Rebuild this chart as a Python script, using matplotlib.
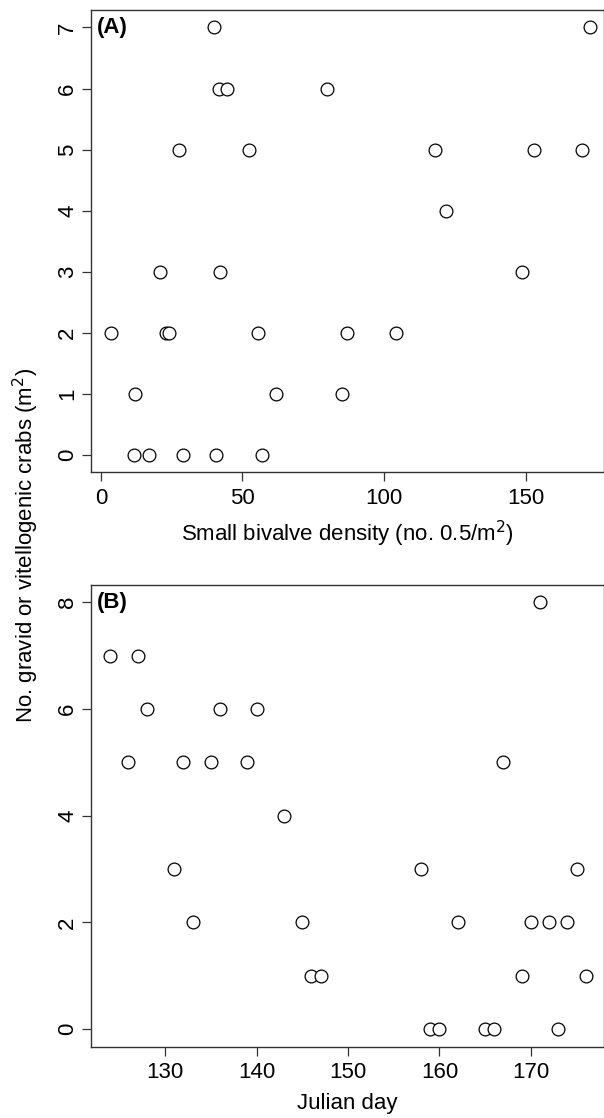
import matplotlib
matplotlib.use("Agg")
import matplotlib.pyplot as plt

plt.rcParams['font.family'] = ['Liberation Sans', 'DejaVu Sans']

# panel A: small bivalve density vs number of crabs
density_a = [40.1, 41.8, 44.4, 79.9, 172.7,
             27.7, 52.2, 117.9, 152.8, 170.0,
             121.8,
             21.0, 42.0, 148.9,
             3.5, 23.0, 23.9, 55.5, 86.9, 104.1,
             12.1, 61.9, 85.0,
             11.6, 17.1, 28.9, 40.7, 56.9]
crabs_a = [7, 6, 6, 6, 7,
           5, 5, 5, 5, 5,
           4,
           3, 3, 3,
           2, 2, 2, 2, 2, 2,
           1, 1, 1,
           0, 0, 0, 0, 0]

# panel B: julian day vs number of crabs
day_b = [124, 127, 128, 136, 140,
         126, 132, 135, 139, 167,
         143,
         131, 158, 175,
         133, 145, 162, 170, 172, 174,
         146, 147, 169, 176,
         159, 160, 165, 166, 173,
         171]
crabs_b = [7, 7, 6, 6, 6,
           5, 5, 5, 5, 5,
           4,
           3, 3, 3,
           2, 2, 2, 2, 2, 2,
           1, 1, 1, 1,
           0, 0, 0, 0, 0,
           8]

ticks_a_x = [0, 50, 100, 150]
ticks_a_y = [0, 1, 2, 3, 4, 5, 6, 7]
ticks_b_x = [130, 140, 150, 160, 170]
ticks_b_y = [0, 2, 4, 6, 8]

W, H = 604, 1118
fig = plt.figure(figsize=(W / 100, H / 100), dpi=100)

ax_a = fig.add_axes([91 / W, 1 - 472.3 / H, 1 - 91 / W, 462 / H])
ax_b = fig.add_axes([91 / W, 1 - 1046.7 / H, 1 - 91 / W, 462 / H])

EDGE = '#333333'
FS = 16


def style(ax, xt, yt):
    for s in ax.spines.values():
        s.set_color(EDGE)
        s.set_linewidth(1.0)
    ax.set_xticks(xt)
    ax.set_yticks(yt)
    ax.tick_params(direction='out', length=6.7, width=0.9, color=EDGE,
                   labelsize=FS)
    ax.tick_params(axis='x', pad=4.5)
    ax.tick_params(axis='y', pad=2.5)
    for lab in ax.get_yticklabels():
        lab.set_rotation(90)
        lab.set_va('center')


def panel_tag(ax, tag):
    ax.annotate(tag, xy=(0, 1), xycoords='axes fraction',
                xytext=(4, -5), textcoords='offset points',
                fontsize=FS, fontweight='bold', va='top', ha='left')


ax_a.plot(density_a, crabs_a, 'o', ms=9.2, mfc='white', mec='black', mew=0.9)
ax_a.set_xlim(-3.5, 177.7)
ax_a.set_ylim(-0.28, 7.28)
style(ax_a, ticks_a_x, ticks_a_y)
ax_a.set_xlabel('Small bivalve density (no. 0.5/m$^2$)', fontsize=FS, labelpad=7.5)
panel_tag(ax_a, '(A)')

ax_b.plot(day_b, crabs_b, 'o', ms=9.2, mfc='white', mec='black', mew=0.9)
ax_b.set_xlim(121.9, 178.0)
ax_b.set_ylim(-0.33, 8.33)
style(ax_b, ticks_b_x, ticks_b_y)
ax_b.set_xlabel('Julian day', fontsize=FS, labelpad=7)
panel_tag(ax_b, '(B)')

fig.text(25.5 / W, 1 - 545 / H, 'No. gravid or vitellogenic crabs (m$^2$)',
         rotation=90, ha='center', va='center', fontsize=FS)

fig.savefig('out.png', dpi=100)
